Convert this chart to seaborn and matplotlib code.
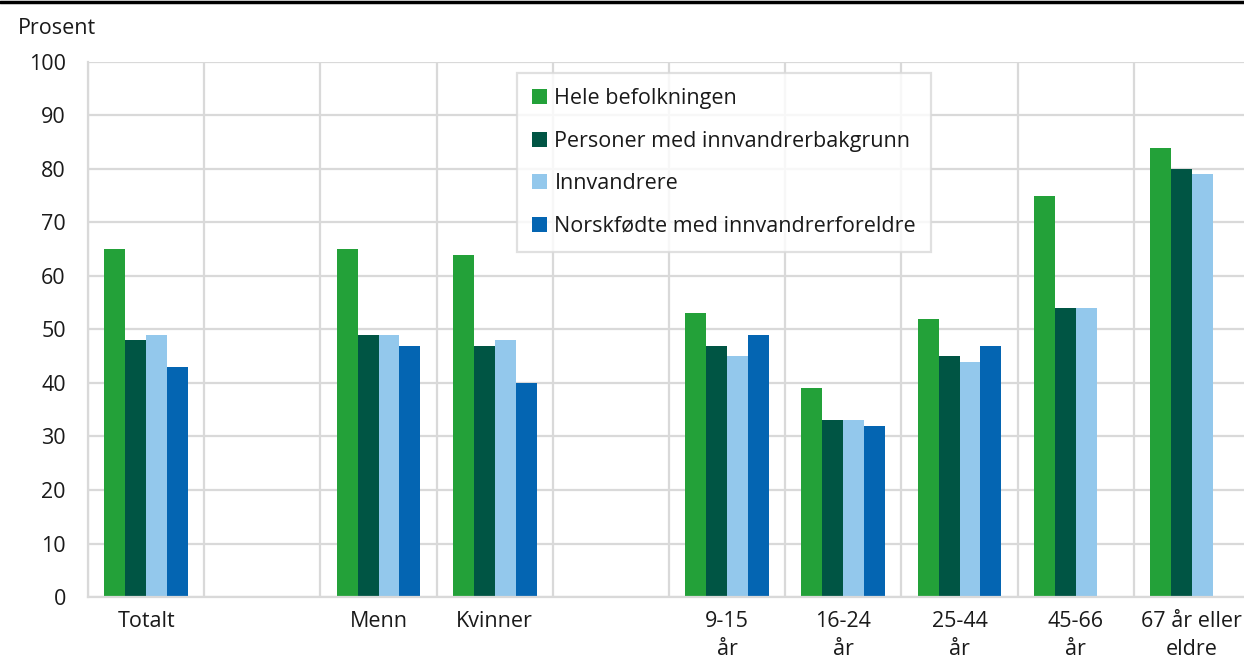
import numpy as np
import pandas as pd
import matplotlib.pyplot as plt
import seaborn as sns
from matplotlib.lines import Line2D

# data
categories = ["Totalt", " ", "Menn", "Kvinner", "  ", "9-15\når", "16-24\når",
              "25-44\når", "45-66\når", "67 år eller\neldre"]
series = ["Hele befolkningen", "Personer med innvandrerbakgrunn",
          "Innvandrere", "Norskfødte med innvandrerforeldre"]
hele = [65, np.nan, 65, 64, np.nan, 53, 39, 52, 75, 84]
bakgrunn = [48, np.nan, 49, 47, np.nan, 47, 33, 45, 54, 80]
innvandrere = [49, np.nan, 49, 48, np.nan, 45, 33, 44, 54, 79]
norskfodte = [43, np.nan, 47, 40, np.nan, 49, 32, 47, np.nan, np.nan]
colors = ["#23a139", "#005544", "#93c8ec", "#0465b2"]

rows = []
for s, vals in zip(series, [hele, bakgrunn, innvandrere, norskfodte]):
    for c, v in zip(categories, vals):
        rows.append({"kategori": c, "serie": s, "verdi": v})
df = pd.DataFrame(rows)

sns.set_style("white")
plt.rcParams['font.family'] = ['Open Sans', 'DejaVu Sans']
plt.rcParams['text.color'] = '#1a1a1a'
fs = 15.5

fig = plt.figure(figsize=(12.44, 6.66), dpi=100)
ax = fig.add_axes([88 / 1244, 1 - 597 / 666, 1162 / 1244, 535 / 666])

sns.barplot(data=df, x="kategori", y="verdi", hue="serie", order=categories,
            hue_order=series, palette=colors, width=0.72, saturation=1,
            linewidth=0, ax=ax)

grid_c = "#d9d9d9"
ax.set_ylim(0, 100)
ax.set_xlim(-0.5, len(categories) - 0.5)
ax.set_yticks(range(0, 101, 10))
ax.set_xticks(np.arange(-0.5, len(categories), 1), minor=True)
ax.grid(axis="y", which="major", color=grid_c, linewidth=1.6)
ax.grid(axis="x", which="minor", color=grid_c, linewidth=1.6)
ax.grid(axis="x", which="major", visible=False)
ax.set_axisbelow(True)
for side in ["top", "right"]:
    ax.spines[side].set_visible(False)
for side in ["left", "bottom"]:
    ax.spines[side].set_color(grid_c)
    ax.spines[side].set_linewidth(1.6)
ax.tick_params(axis="both", which="both", length=0, labelsize=fs,
               colors="#1a1a1a")
ax.tick_params(axis="y", pad=16)
ax.tick_params(axis="x", pad=10)
for lab in ax.get_xticklabels():
    lab.set_linespacing(1.45)
ax.set_xlabel("")
ax.set_ylabel("")

leg = ax.legend(loc="upper left", bbox_to_anchor=(0.369, 0.979), fontsize=fs,
                frameon=True, fancybox=False, edgecolor=grid_c,
                handlelength=0.7, handleheight=0.7, handletextpad=0.35,
                labelspacing=1.0, borderpad=0.7, borderaxespad=0)
leg.get_frame().set_linewidth(1.6)

fig.text(18 / 1244, 1 - 28 / 666, "Prosent", fontsize=fs, va="center",
         ha="left")
fig.add_artist(Line2D([0, 1], [1 - 2 / 666, 1 - 2 / 666], color="black",
                      linewidth=2.5, transform=fig.transFigure))

plt.savefig("out.png", dpi=100)
